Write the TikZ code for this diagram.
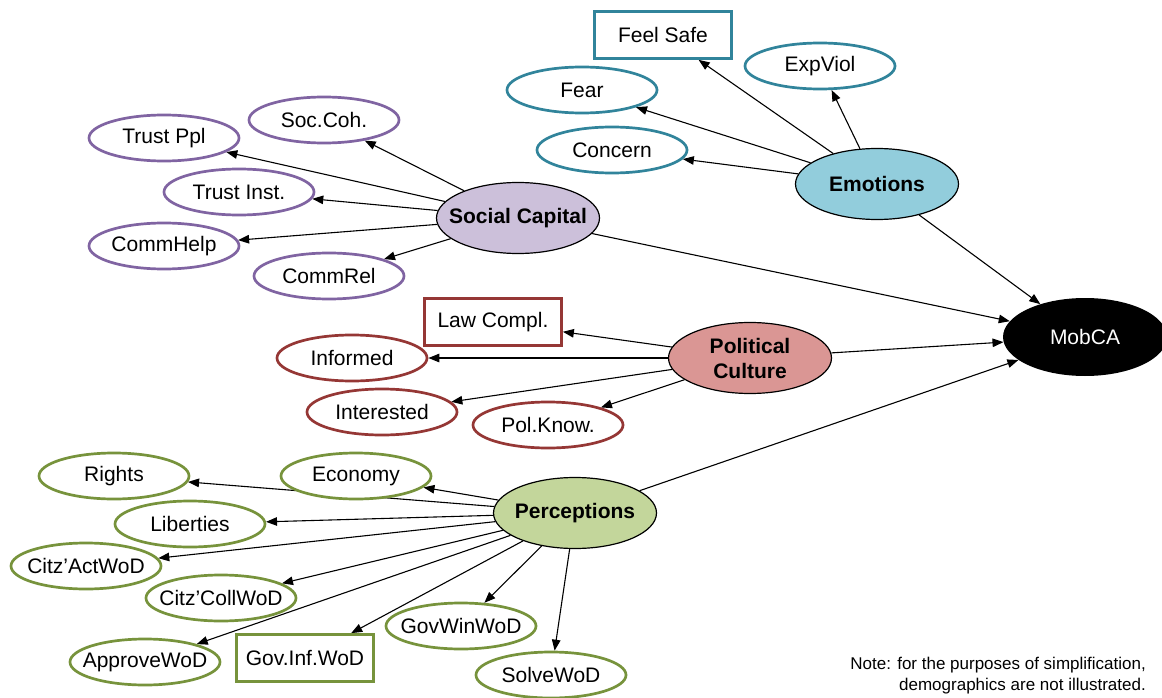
\documentclass[tikz,border=0pt]{standalone}
\usepackage{fontspec}
\setmainfont{Liberation Sans}
\usetikzlibrary{shapes.geometric,arrows.meta,backgrounds}
\definecolor{emoLine}{HTML}{31849B}
\definecolor{emoFill}{HTML}{92CDDC}
\definecolor{socLine}{HTML}{8064A2}
\definecolor{socFill}{HTML}{CCC0DA}
\definecolor{polLine}{HTML}{953735}
\definecolor{polFill}{HTML}{DA9694}
\definecolor{perLine}{HTML}{77933C}
\definecolor{perFill}{HTML}{C3D69B}
\begin{document}
\begin{tikzpicture}[x=1pt,y=-1pt,
  every node/.style={font=\fontsize{21}{25}\selectfont, inner sep=0pt},
  % fixed-size shapes: the label is set in a zero-width box so it never widens the shape
  fixedtext/.style={execute at begin node={\hbox to 0pt\bgroup\hss},
                    execute at end node={\hss\egroup}},
  item/.style={ellipse, draw=#1, line width=2.7pt, fill=white,
    minimum width=150pt, minimum height=46pt, fixedtext},
  itembox/.style={rectangle, draw=#1, line width=2.7pt, fill=white,
    minimum width=137pt, minimum height=47pt, fixedtext},
  factor/.style={ellipse, draw=black, line width=1.2pt, fill=#1,
    minimum width=163pt, minimum height=71pt,
    font=\fontsize{21}{25}\selectfont\bfseries, align=center},
  link/.style={-{Triangle[length=11pt,width=8.5pt]}, line width=1.1pt}
]
\useasboundingbox (0,0) rectangle (1162,698);

% outcome
\node[ellipse, fill=black, text=white, minimum width=164pt, minimum height=78pt, fixedtext]
  (mob) at (1085,337) {MobCA};

% emotions block
\node[factor=emoFill, fixedtext] (emo) at (877,184) {Emotions};
\node[itembox=emoLine] (feel) at (663,35) {Feel Safe};
\node[item=emoLine] (expv) at (820,66) {ExpViol};
\node[item=emoLine] (fear) at (582,90) {Fear};
\node[item=emoLine] (conc) at (612,150) {Concern};

% social capital block
\node[factor=socFill, fixedtext] (soc) at (518,218) {Social Capital};
\node[item=socLine] (coh) at (324,120) {Soc.Coh.};
\node[item=socLine] (tppl) at (164,138) {Trust Ppl};
\node[item=socLine] (tins) at (239,192) {Trust Inst.};
\node[item=socLine] (help) at (164,246) {CommHelp};
\node[item=socLine] (rel) at (329,276) {CommRel};

% political culture block
\node[factor=polFill] (pol) at (750,358) {Political\\Culture};
\node[itembox=polLine] (law) at (493,322) {Law Compl.};
\node[item=polLine] (inf) at (352,358) {Informed};
\node[item=polLine] (intr) at (382,412) {Interested};
\node[item=polLine] (know) at (548,425) {Pol.Know.};

% perceptions block
\node[factor=perFill, fixedtext] (per) at (575,513) {Perceptions};
\node[item=perLine] (rights) at (114,476) {Rights};
\node[item=perLine] (econ) at (356,476) {Economy};
\node[item=perLine] (lib) at (190,524) {Liberties};
\node[item=perLine] (act) at (86,566) {Citz'ActWoD};
\node[item=perLine] (coll) at (221,598) {Citz'CollWoD};
\node[item=perLine] (appr) at (145,662) {ApproveWoD};
\node[itembox=perLine] (ginf) at (305,658) {Gov.Inf.WoD};
\node[item=perLine] (gwin) at (461,626) {GovWinWoD};
\node[item=perLine] (solve) at (551,675) {SolveWoD};

% note
\node[anchor=east, align=right, font=\fontsize{17}{21}\selectfont] (note) at (1146,676)
  {Note: for the purposes of simplification,\\demographics are not illustrated.};

% connectors
\begin{scope}[on background layer]
\draw[link] (emo) -- (feel);
\draw[link] (emo) -- (expv);
\draw[link] (emo) -- (fear);
\draw[link] (emo) -- (conc);
\draw[link] (emo) -- (mob);

\draw[link] (soc) -- (coh);
\draw[link] (soc) -- (tppl);
\draw[link] (soc) -- (tins);
\draw[link] (soc) -- (help);
\draw[link] (soc) -- (rel);
\draw[link] (soc) -- (mob);

\draw[link] (pol) -- (law);
\draw[link] (pol) -- (inf);
\draw[link] (pol) -- (intr);
\draw[link] (pol) -- (know);
\draw[link] (pol) -- (mob);

\draw[link] (per) -- (rights);
\draw[link] (per) -- (econ);
\draw[link] (per) -- (lib);
\draw[link] (per) -- (act);
\draw[link] (per) -- (coll);
\draw[link] (per) -- (appr);
\draw[link] (per) -- (ginf);
\draw[link] (per) -- (gwin);
\draw[link] (per) -- (solve);
\draw[link] (per) -- (mob);
\end{scope}
\end{tikzpicture}
\end{document}
